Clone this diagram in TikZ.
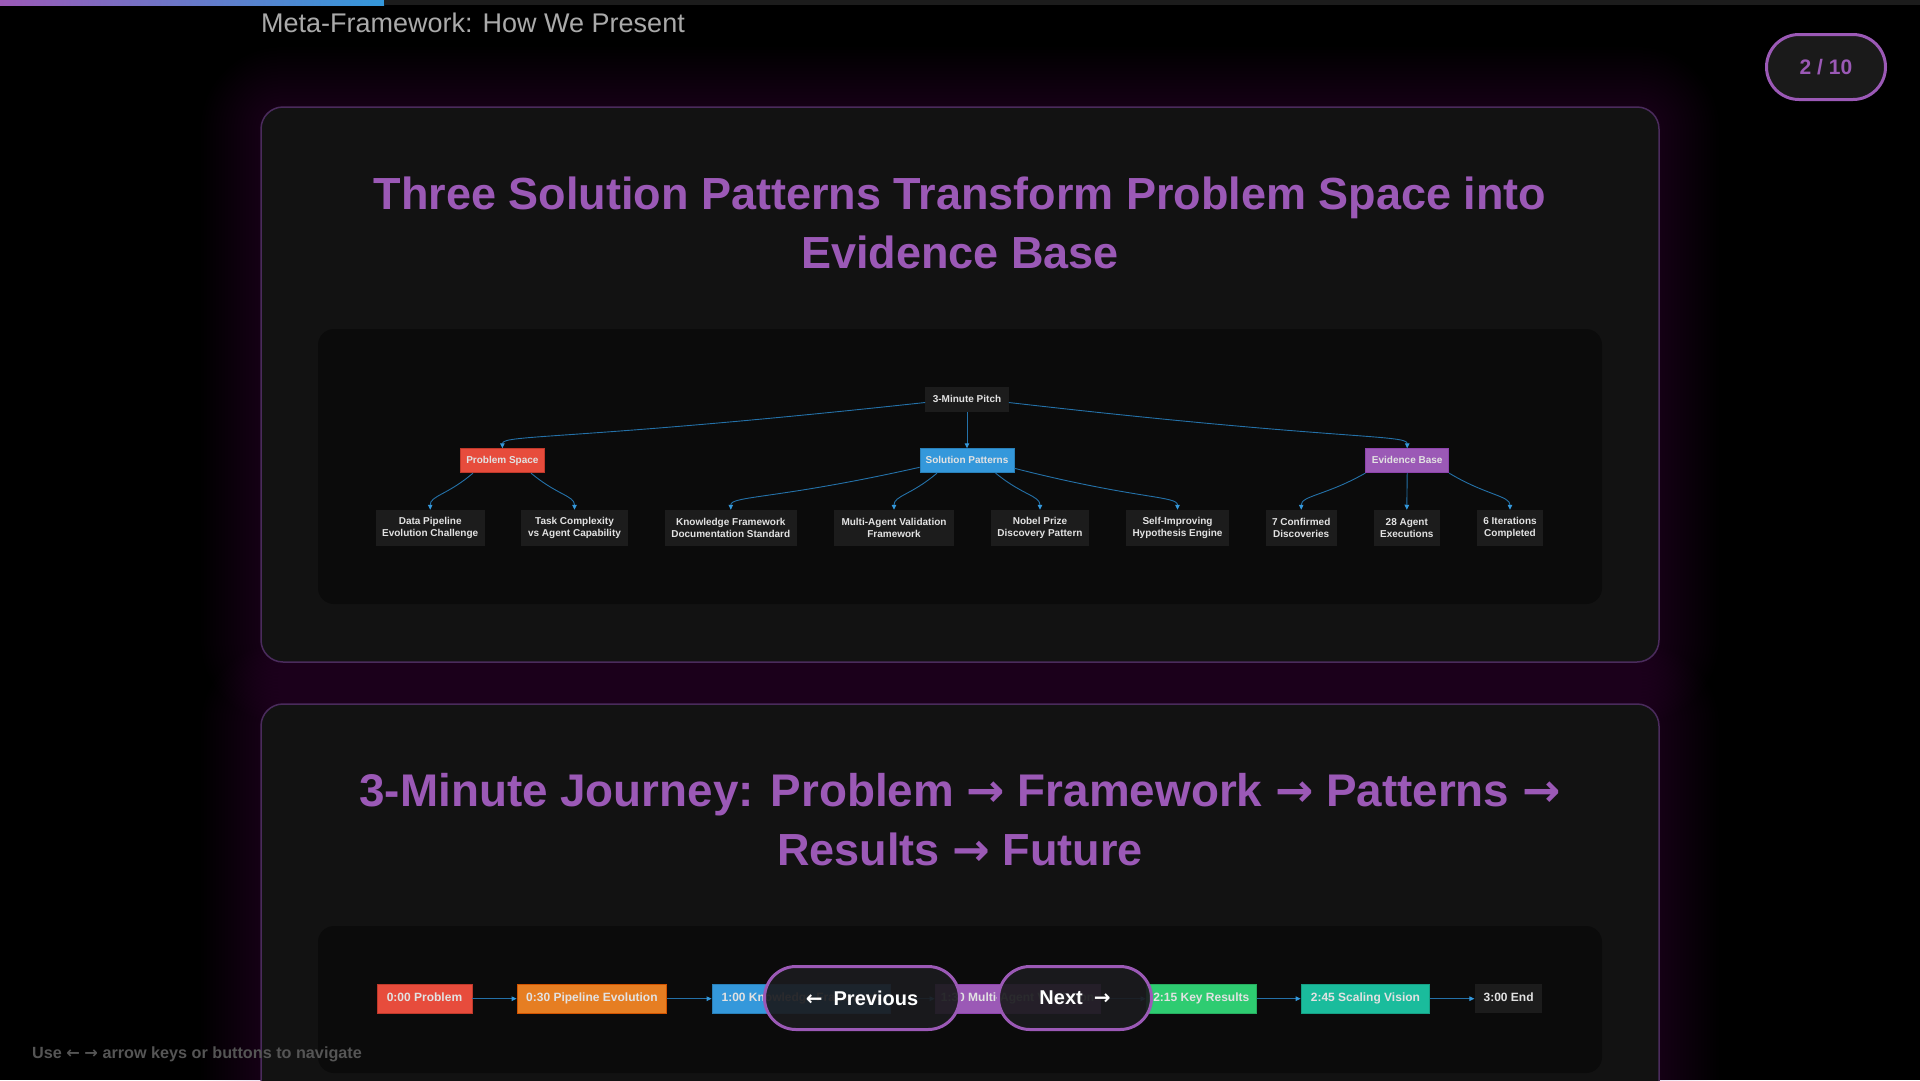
\documentclass[tikz,border=0pt]{standalone}
\usepackage{fontspec}
\setmainfont{Liberation Sans}
\newfontfamily\arrowfont{DejaVu Sans}
\usetikzlibrary{arrows.meta,calc}

\definecolor{purp}{HTML}{9B59B6}
\definecolor{purpdark}{HTML}{8E44AD}
\definecolor{redc}{HTML}{E74C3C}
\definecolor{reddark}{HTML}{C0392B}
\definecolor{bluec}{HTML}{3498DB}
\definecolor{bluedark}{HTML}{2980B9}
\definecolor{orangec}{HTML}{E67E22}
\definecolor{orangedark}{HTML}{D35400}
\definecolor{greenc}{HTML}{2ECC71}
\definecolor{greendark}{HTML}{27AE60}
\definecolor{tealc}{HTML}{1ABC9C}
\definecolor{tealdark}{HTML}{16A085}
\definecolor{cardfill}{HTML}{121212}
\definecolor{cardline}{HTML}{4A2B5C}
\definecolor{panelfill}{HTML}{0B0B0B}
\definecolor{leaffill}{HTML}{1C1C1C}
\definecolor{nodetext}{HTML}{E2E2E2}
\definecolor{edgec}{HTML}{2471A8}
\definecolor{tipc}{HTML}{3498DB}
\definecolor{titlegray}{HTML}{AAAAAA}
\definecolor{hintgray}{HTML}{555555}
\definecolor{bargray}{HTML}{1C1C1C}
\definecolor{pillfill}{HTML}{1A1A1A}
\definecolor{btnfill}{HTML}{1B1B1E}

% arrows set in a font with a heavier arrow glyph
\newcommand\rarr{{\arrowfont\bfseries →}}
\newcommand\larr{{\arrowfont\bfseries ←}}

% curved connector: straight run toward the target, then a bend into it from above
\newcommand\flowlink[3]{%
  \draw[edge] (#2) .. controls ($(#2)!#1!(#3)$) and ($(#3)+(0,-14)$) .. (#3);}

\begin{document}
\begin{tikzpicture}[x=1pt,y=-1pt,
  edge/.style={draw=edgec, line width=0.9pt, -{Triangle[length=5pt,width=4.5pt,color=tipc]}},
  box/.style={inner sep=0pt, align=center, text=nodetext,
    font=\fontsize{10}{12}\selectfont\bfseries},
  leaf/.style={box, fill=leaffill, minimum height=35.7pt},
  head/.style={box, minimum height=24pt, line width=0.8pt, text height=7.3pt, text depth=2.1pt},
  tl/.style={inner sep=0pt, minimum height=29.3pt, line width=0.8pt, text=nodetext,
    text height=8.7pt, text depth=2.5pt,
    font=\fontsize{12}{14}\selectfont\bfseries},
  bigtitle/.style={anchor=base, inner sep=0pt, text=purp,
    font=\fontsize{45}{54}\selectfont\bfseries},
  navbtn/.style={draw=purp, line width=3pt, fill=btnfill, fill opacity=0.92, text opacity=1,
    rounded corners=31.5pt, minimum height=63pt, text=white,
    font=\fontsize{20}{24}\selectfont\bfseries}
]
\useasboundingbox (0,0) rectangle (1920,1080);
\clip (0,0) rectangle (1920,1080);
\fill[black] (0,0) rectangle (1920,1080);

% progress bar
\shade[left color=purp, middle color=redc, right color=bluec] (0,0) rectangle (384,5);
\fill[bargray] (384,0) rectangle (1920,5);

% soft purple glow behind the two cards
\foreach \i in {1,...,20}{
  \pgfmathsetmacro\gd{3*\i}
  \pgfmathsetmacro\gr{22+3*\i}
  \fill[purp, opacity=0.009, rounded corners=\gr pt] (261-\gd,107-\gd) rectangle (1659+\gd,662+\gd);
  \fill[purp, opacity=0.009, rounded corners=\gr pt] (261-\gd,704-\gd) rectangle (1659+\gd,1300+\gd);
}

% cards
\draw[cardline, line width=1.5pt, fill=cardfill, rounded corners=22pt] (261,107) rectangle (1659,662);
\draw[cardline, line width=1.5pt, fill=cardfill, rounded corners=22pt] (261,704) rectangle (1659,1300);

% diagram panels
\fill[panelfill, rounded corners=16pt] (318,329) rectangle (1602,604);
\fill[panelfill, rounded corners=16pt] (318,926) rectangle (1602,1073);

% header and pager
\node[anchor=base west, inner sep=0pt, text=titlegray, font=\fontsize{27}{32}\selectfont]
  (pagetitle) at (261,32) {Meta-Framework: How We Present};
\node[draw=purp, line width=3pt, fill=pillfill, rounded corners=32.5pt,
  minimum width=119pt, minimum height=65pt, text=purp,
  font=\fontsize{21}{25}\selectfont\bfseries] (pager) at (1826,67) {2 / 10};

% card titles
\node[bigtitle] (t1a) at (960,209) {Three Solution Patterns Transform Problem Space into};
\node[bigtitle] (t1b) at (960,268) {Evidence Base};
\node[bigtitle, font=\fontsize{45.8}{54}\selectfont\bfseries] (t2a) at (960,806)
  {3-Minute Journey: Problem \rarr{} Framework \rarr{} Patterns \rarr};
\node[bigtitle] (t2b) at (960,865) {Results \rarr{} Future};

% tree: root, three branches, leaves
\node[box, fill=leaffill, minimum width=83.2pt, minimum height=24.4pt,
  text height=7.3pt, text depth=2.1pt] (root) at (967,399.5) {3-Minute Pitch};

\node[head, fill=redc, draw=reddark, minimum width=84.7pt] (ps) at (502.4,460.7) {Problem Space};
\node[head, fill=bluec, draw=bluedark, minimum width=94pt] (sp) at (967,460.7) {Solution Patterns};
\node[head, fill=purp, draw=purpdark, minimum width=83pt] (eb) at (1407.2,460.7) {Evidence Base};

\node[leaf, minimum width=108.8pt] (dp) at (430.2,527.8) {Data Pipeline\\Evolution Challenge};
\node[leaf, minimum width=106.4pt] (tc) at (574.5,527.8) {Task Complexity\\vs Agent Capability};
\node[leaf, minimum width=132.5pt] (kf) at (730.8,527.8) {Knowledge Framework\\Documentation Standard};
\node[leaf, minimum width=120pt] (ma) at (894,527.8) {Multi-Agent Validation\\Framework};
\node[leaf, minimum width=98.5pt] (np) at (1040,527.8) {Nobel Prize\\Discovery Pattern};
\node[leaf, minimum width=103pt] (si) at (1177.5,527.8) {Self-Improving\\Hypothesis Engine};
\node[leaf, minimum width=71pt] (cd) at (1301.2,527.8) {7 Confirmed\\Discoveries};
\node[leaf, minimum width=65.6pt] (ae) at (1406.8,527.8) {28 Agent\\Executions};
\node[leaf, minimum width=66.4pt] (ic) at (1510,527.8) {6 Iterations\\Completed};

\flowlink{0.82}{[yshift=-3pt]root.west}{ps.north}
\draw[edge] (root.south) -- (sp.north);
\flowlink{0.82}{[yshift=-3pt]root.east}{eb.north}

\flowlink{0.6}{[xshift=-29.4pt]ps.south}{dp.north}
\flowlink{0.6}{[xshift=28.6pt]ps.south}{tc.north}
\flowlink{0.75}{[yshift=-6.6pt]sp.west}{kf.north}
\flowlink{0.6}{[xshift=-30pt]sp.south}{ma.north}
\flowlink{0.6}{[xshift=28.6pt]sp.south}{np.north}
\flowlink{0.75}{[yshift=-7.6pt]sp.east}{si.north}
\flowlink{0.6}{eb.south west}{cd.north}
\draw[edge] (eb.south) -- (ae.north);
\flowlink{0.6}{eb.south east}{ic.north}

% timeline
\node[tl, fill=redc, draw=reddark, minimum width=95pt] (s0) at (424.5,998.7) {0:00 Problem};
\node[tl, fill=orangec, draw=orangedark, minimum width=149.8pt] (s1) at (591.9,998.7) {0:30 Pipeline Evolution};
\node[tl, fill=bluec, draw=bluedark, minimum width=178pt] (s2) at (801,998.7) {1:00 Knowledge Framework};
\node[tl, fill=purp, draw=purpdark, minimum width=165pt] (s3) at (1017.5,998.7) {1:30 Multi-Agent Validation};
\node[tl, fill=greenc, draw=greendark, minimum width=110.6pt] (s4) at (1201.3,998.7) {2:15 Key Results};
\node[tl, fill=tealc, draw=tealdark, minimum width=128.7pt] (s5) at (1365.4,998.7) {2:45 Scaling Vision};
\node[tl, fill=leaffill, minimum width=67.6pt] (s6) at (1508.6,998.7) {3:00 End};

\draw[edge] (s0.east) -- (s1.west);
\draw[edge] (s1.east) -- (s2.west);
\draw[edge] (s2.east) -- (s3.west);
\draw[edge] (s3.east) -- (s4.west);
\draw[edge] (s4.east) -- (s5.west);
\draw[edge] (s5.east) -- (s6.west);

% navigation buttons
\node[navbtn, minimum width=195pt] (prev) at (862,998) {\larr\hspace{11pt}Previous};
\node[navbtn, minimum width=153pt] (next) at (1075,998) {Next\hspace{11pt}\rarr};

% key hint
\node[anchor=west, inner sep=0pt, text=hintgray, font=\fontsize{16.2}{19}\selectfont\bfseries]
  (hint) at (32,1054) {Use \larr{} \rarr{} arrow keys or buttons to navigate};
\end{tikzpicture}
\end{document}
